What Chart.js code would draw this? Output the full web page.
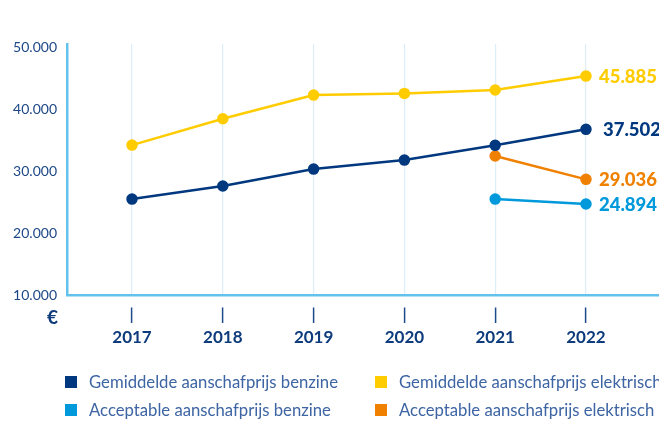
<!DOCTYPE html>
<html>
<head>
<meta charset="utf-8">
<script src="https://cdn.jsdelivr.net/npm/chart.js@4/dist/chart.umd.min.js"></script>
<style>
  html, body { margin:0; padding:0; width:659px; height:421px; overflow:hidden; background:#ffffff; }
  #wrap { position:absolute; left:0; top:0; width:720px; height:421px; }
  #legend { position:absolute; left:65px; top:368px; width:720px; display:grid;
            grid-template-columns:310px 310px; font-family:Lato, "Noto Sans", sans-serif;
            font-size:16.7px; color:#3d64a3; white-space:nowrap; }
  .item { display:flex; align-items:center; height:28px; }
  .sw { width:12px; height:12px; margin-right:12px; flex:none; }
</style>
</head>
<body>
<div id="wrap"><canvas id="c"></canvas></div>
<div id="legend"></div>
<script>
const years = [2017, 2018, 2019, 2020, 2021, 2022];
const gemBenzine    = [25480, 27580, 30320, 31770, 34150, 36730];
const gemElektrisch = [34190, 38440, 42260, 42530, 43070, 45320];
const accBenzine    = [null, null, null, null, 25480, 24680];
const accElektrisch = [null, null, null, null, 32420, 28660];
const seriesNames = [
  'Gemiddelde aanschafprijs benzine',
  'Gemiddelde aanschafprijs elektrisch',
  'Acceptable aanschafprijs benzine',
  'Acceptable aanschafprijs elektrisch'
];
const endLabels = ['37.502', '45.885', '24.894', '29.036'];
const yTicks = [10000, 20000, 30000, 40000, 50000];
const currencyLabel = '€';

const colors = ['#00387f', '#ffcc00', '#0099dc', '#f08000'];
const seriesValues = [gemBenzine, gemElektrisch, accBenzine, accElektrisch];
const labelOffsets = [17, 13, 13, 13];

function fmt(v) { return String(v).replace(/\B(?=(\d{3})+(?!\d))/g, '.'); }

const datasets = seriesValues.map((vals, i) => ({
  label: seriesNames[i],
  data: years.map((yr, j) => ({ x: yr, y: vals[j] })),
  borderColor: colors[i],
  backgroundColor: colors[i],
  pointBackgroundColor: colors[i],
  pointBorderColor: colors[i],
  borderWidth: 2.5,
  pointRadius: 4.5,
  pointHoverRadius: 4.5,
  tension: 0,
  spanGaps: false,
  endOffset: labelOffsets[i],
  endLabel: endLabels[i]
}));

const endLabelPlugin = {
  id: 'endLabels',
  afterDatasetsDraw(chart) {
    const ctx = chart.ctx;
    chart.data.datasets.forEach((ds, i) => {
      const meta = chart.getDatasetMeta(i);
      const pt = meta.data[meta.data.length - 1];
      ctx.save();
      ctx.font = '900 18.5px Lato';
      ctx.fillStyle = ds.borderColor;
      ctx.textAlign = 'left';
      ctx.textBaseline = 'middle';
      ctx.fillText(ds.endLabel, pt.x + ds.endOffset, pt.y + 1);
      ctx.restore();
    });
    const ys = chart.scales.y, xs = chart.scales.x;
    ctx.save();
    ctx.font = 'bold 19px Lato';
    ctx.fillStyle = '#0d3b7c';
    ctx.textAlign = 'right';
    ctx.textBaseline = 'middle';
    ctx.fillText(currencyLabel, ys.right - 9, xs.top + 23);
    ctx.restore();
  }
};

const chart = new Chart(document.getElementById('c'), {
  type: 'line',
  data: { datasets },
  plugins: [endLabelPlugin],
  options: {
    responsive: true,
    maintainAspectRatio: false,
    animation: false,
    layout: { padding: { top: 44, left: 0, right: 0, bottom: 76 } },
    plugins: { legend: { display: false }, tooltip: { enabled: false }, title: { display: false } },
    scales: {
      x: {
        type: 'linear',
        min: 2016.284,
        max: 2023.399,
        afterBuildTicks: (s) => { s.ticks = years.map(v => ({ value: v })); },
        afterFit: (s) => { s.height = 50; },
        border: { display: true, color: '#63c2ec', width: 2.5 },
        grid: {
          color: '#dceef9',
          lineWidth: 1.2,
          drawTicks: true,
          tickLength: 28,
          tickColor: '#1d4a8a',
          tickWidth: 1.5,
          tickBorderDash: [0, 11, 16, 40]
        },
        ticks: {
          padding: 4,
          color: '#0d3b7c',
          font: { family: 'Lato', size: 17, weight: 'bold' },
          callback: (v) => String(v),
          maxRotation: 0
        }
      },
      y: {
        min: 10000,
        max: 50500,
        afterBuildTicks: (s) => { s.ticks = yTicks.map(v => ({ value: v })); },
        afterFit: (s) => { s.width = 67; },
        border: { display: true, color: '#63c2ec', width: 2.5 },
        grid: { drawOnChartArea: false, drawTicks: false },
        ticks: {
          padding: 10,
          color: '#1c4787',
          font: { family: 'Lato', size: 14 },
          callback: (v) => fmt(v)
        }
      }
    }
  }
});

const legend = document.getElementById('legend');
chart.data.datasets.forEach(ds => {
  const item = document.createElement('div');
  item.className = 'item';
  const sw = document.createElement('span');
  sw.className = 'sw';
  sw.style.background = ds.borderColor;
  const tx = document.createElement('span');
  tx.textContent = ds.label;
  item.appendChild(sw);
  item.appendChild(tx);
  legend.appendChild(item);
});
</script>
</body>
</html>
